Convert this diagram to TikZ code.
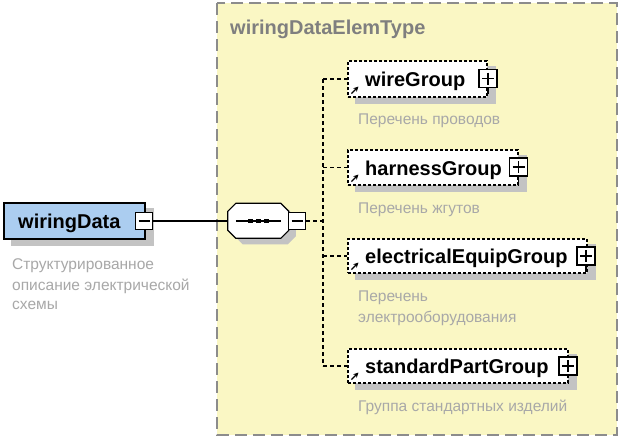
\documentclass[tikz,border=0pt]{standalone}
\usepackage{fontspec}
\setmainfont{Liberation Sans}
\usetikzlibrary{arrows.meta}
\definecolor{bgyellow}{HTML}{FAF7C4}
\definecolor{framegray}{HTML}{8C8C8C}
\definecolor{titlegray}{HTML}{7F7F7F}
\definecolor{descgray}{HTML}{A8A8A8}
\definecolor{elemblue}{HTML}{ABCDF0}
\definecolor{shadowgray}{HTML}{C3C3C3}
\pgfdeclarelayer{framelayer}
\pgfdeclarelayer{shadowlayer}
\pgfsetlayers{framelayer,shadowlayer,main}
\tikzset{
  elembox/.style={draw=black, line width=1.2pt, fill=elemblue, inner sep=0pt},
  optbox/.style={draw=black, line width=1.2pt, dash pattern=on 3pt off 2pt, fill=white, inner sep=0pt},
  elemname/.style={anchor=base west, inner sep=0pt, font=\fontsize{20}{22}\selectfont\bfseries, text=black},
  descr/.style={anchor=base west, inner sep=0pt, font=\fontsize{15.5}{18}\selectfont, text=descgray},
  plusbox/.style={draw=black, fill=white, line width=1.1pt, minimum size=18pt, inner sep=0pt,
    path picture={\draw[line width=1.1pt] ([xshift=3pt]path picture bounding box.west) -- ([xshift=-3pt]path picture bounding box.east);
                  \draw[line width=1.1pt] ([yshift=-3pt]path picture bounding box.north) -- ([yshift=3pt]path picture bounding box.south);}},
  minusbox/.style={draw=black, fill=white, line width=1.1pt, minimum size=17pt, inner sep=0pt,
    path picture={\draw[line width=1.1pt] ([xshift=3pt]path picture bounding box.west) -- ([xshift=-3pt]path picture bounding box.east);}},
  shadowfill/.style={fill=shadowgray},
  solidcon/.style={draw=black, line width=1.2pt},
  dashcon/.style={draw=black, line width=1.2pt, dash pattern=on 4pt off 3pt},
  refarrow/.style={draw=black, line width=1.3pt, -{Stealth[length=5pt,width=5pt]}},
}
\newcommand{\boxshadow}[1]{\begin{pgfonlayer}{shadowlayer}\fill[shadowfill] ([shift={(8pt,-6pt)}]#1.north west) rectangle ([shift={(8pt,-6pt)}]#1.south east);\end{pgfonlayer}}
\begin{document}
\begin{tikzpicture}[x=1pt,y=-1pt]
\useasboundingbox (0,0) rectangle (621,439);
\begin{pgfonlayer}{framelayer}
\fill[white] (0,0) rectangle (621,439);
\draw[fill=bgyellow, draw=framegray, line width=1.6pt, dash pattern=on 12pt off 6pt] (217,3) rectangle (617,435);
\end{pgfonlayer}
\node[anchor=base west, inner sep=0pt, font=\fontsize{20}{22}\selectfont\bfseries, text=titlegray] (title) at (230,34) {wiringDataElemType};

% root element
\node[elembox, minimum width=141pt, minimum height=36pt] (wd) at (74.5,221) {};
\boxshadow{wd}
\node[elemname] (wdlabel) at (18,228) {wiringData};
\node[minusbox] (wdm) at (144,221) {};
\node[descr] (wdd1) at (12,269) {Структурированное};
\node[descr] (wdd2) at (12,290) {описание электрической};
\node[descr] (wdd3) at (12,309) {схемы};

% sequence compositor
\node[inner sep=0pt, minimum width=61pt, minimum height=35pt] (seq) at (258.5,221) {};
\fill[shadowgray] ([shift={(7pt,-6pt)}]seq.north west) ++(8,0) -- ++(45,0) -- ++(8,8) -- ++(0,19) -- ++(-8,8) -- ++(-45,0) -- ++(-8,-8) -- ++(0,-19) -- cycle;
\draw[line width=1.2pt, fill=white] (seq.north west) ++(8,0) -- ++(45,0) -- ++(8,8) -- ++(0,19) -- ++(-8,8) -- ++(-45,0) -- ++(-8,-8) -- ++(0,-19) -- cycle;
\coordinate (sl) at ([xshift=8pt]seq.west);
\coordinate (sr) at ([xshift=-8pt]seq.east);
\draw[line width=1.2pt] (sl) -- (sr);
\foreach \dx in {-8,0,8}{ \fill[black] ([xshift=\dx pt]seq.center) +(-2.3,-2.3) rectangle +(2.3,2.3); }
\node[minusbox] (seqm) at (297,221) {};

\draw[solidcon] (wdm.east) -- (seq.west);

% children
\node[optbox, minimum width=139pt, minimum height=36pt] (wg) at (417.5,79) {};
\boxshadow{wg}
\node[elemname] (wglabel) at (365,86) {wireGroup};
\node[plusbox] (wgp) at (488,78.5) {};
\draw[line width=1.1pt] (wgp.south) -- ++(0,6);
\draw[refarrow] ([shift={(4pt,4pt)}]wg.south west) -- ++(7,-7);
\node[descr] (wgd) at (358,124) {Перечень проводов};

\node[optbox, minimum width=170pt, minimum height=35pt] (hg) at (433,167.5) {};
\boxshadow{hg}
\node[elemname] (hglabel) at (365,175) {harnessGroup};
\node[plusbox] (hgp) at (518.5,167) {};
\draw[line width=1.1pt] (hgp.south) -- ++(0,6);
\draw[refarrow] ([shift={(4pt,4pt)}]hg.south west) -- ++(7,-7);
\node[descr] (hgd) at (358,213) {Перечень жгутов};

\node[optbox, minimum width=239pt, minimum height=34pt] (eg) at (467.5,256) {};
\boxshadow{eg}
\node[elemname] (eglabel) at (365,263) {electricalEquipGroup};
\node[plusbox] (egp) at (586,256) {};
\draw[line width=1.1pt] (egp.south) -- ++(0,6);
\draw[refarrow] ([shift={(4pt,4pt)}]eg.south west) -- ++(7,-7);
\node[descr] (egd1) at (358,301) {Перечень};
\node[descr] (egd2) at (358,322) {электрооборудования};

\node[optbox, minimum width=220pt, minimum height=34pt] (sg) at (458,366) {};
\boxshadow{sg}
\node[elemname] (sglabel) at (365,373) {standardPartGroup};
\node[plusbox] (sgp) at (568,366) {};
\draw[refarrow] ([shift={(4pt,4pt)}]sg.south west) -- ++(7,-7);
\node[descr] (sgd) at (358,411) {Группа стандартных изделий};

% connectors
\coordinate (bus) at (323,221);
\draw[dashcon] (seqm.east) -- (bus);
\draw[dashcon] (bus |- wg.west) -- (bus |- sg.west);
\draw[dashcon] (bus |- wg.west) -- (wg.west);
\draw[dashcon] (bus |- hg.west) -- (hg.west);
\draw[dashcon] (bus |- eg.west) -- (eg.west);
\draw[dashcon] (bus |- sg.west) -- (sg.west);
\end{tikzpicture}
\end{document}
